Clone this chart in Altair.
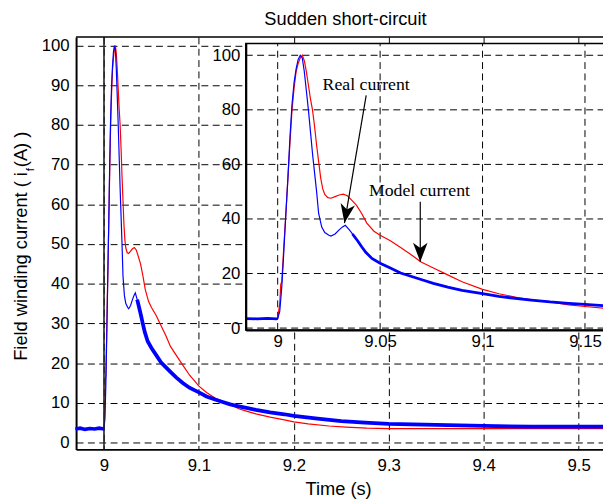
import altair as alt
import pandas as pd

# ---------------- data ----------------
# Real (measured) field current, blue
t_real = [8.970, 8.975, 8.980, 8.985, 8.990, 8.995, 8.9995,
          9.000, 9.001, 9.002, 9.003, 9.004, 9.005, 9.006, 9.007, 9.008, 9.009, 9.010, 9.011, 9.012,
          9.013, 9.014, 9.015, 9.016, 9.017, 9.018, 9.019, 9.020, 9.0215, 9.023, 9.025, 9.026, 9.028,
          9.030, 9.0315, 9.033, 9.035, 9.0365, 9.039, 9.041, 9.043, 9.046, 9.050, 9.055, 9.060, 9.065,
          9.070, 9.076, 9.083, 9.090, 9.100, 9.108, 9.117, 9.125, 9.133, 9.142, 9.150, 9.160, 9.175,
          9.190, 9.200, 9.225, 9.250, 9.275, 9.300, 9.350, 9.400, 9.450, 9.500, 9.526]
i_real = [3.4, 3.6, 3.3, 3.5, 3.4, 3.6, 3.4,
          3.5, 6, 15, 28, 42, 55, 70, 82, 90, 95, 98.5, 100, 99,
          94, 87, 80, 72, 64, 57, 50, 42, 37, 35, 34, 33.7, 34.5,
          36, 37, 37.7, 36, 34.5, 32, 29.8, 27.8, 25.5, 23.8, 22, 20.2, 19,
          17.8, 16.4, 15, 13.8, 12.6, 11.6, 10.8, 10.2, 9.6, 9.1, 8.7, 8.2, 7.6,
          7.1, 6.7, 6.0, 5.4, 5.0, 4.7, 4.4, 4.15, 4.0, 4.0, 4.0]

# Model field current, red
t_model = [8.970, 8.9995, 9.000,
           9.001, 9.0015, 9.002, 9.003, 9.004, 9.005, 9.006, 9.007, 9.008, 9.009, 9.010, 9.011, 9.012,
           9.013, 9.014, 9.015, 9.016, 9.017, 9.018, 9.019, 9.020,
           9.021, 9.022, 9.023, 9.0245, 9.026, 9.028, 9.030, 9.032, 9.034, 9.036,
           9.0385, 9.041, 9.0435, 9.047, 9.050, 9.055, 9.060, 9.065, 9.070, 9.076, 9.083, 9.090, 9.100,
           9.108, 9.117, 9.125, 9.133, 9.142, 9.150, 9.160, 9.175, 9.190, 9.200,
           9.215, 9.237, 9.255, 9.277, 9.300, 9.400, 9.526]
i_model = [3.5, 3.5, 3.5,
           9, 16, 17, 30, 42, 55, 68, 80, 88, 94, 97, 99, 100,
           98, 94, 89, 84, 80, 74, 67, 61,
           55, 51, 49, 47.8, 47.6, 48.2, 48.8, 49.1, 48.5, 47,
           45, 42, 38.5, 35.5, 34, 32, 29.5, 27, 24.2, 22, 19.5, 17, 14.2,
           12.6, 11.2, 10.3, 9.6, 8.5, 7.9, 7.2, 6.4, 5.7, 5.2,
           4.7, 4.15, 3.85, 3.6, 3.5, 3.5, 3.5]

main_x_ticks = [9.0, 9.1, 9.2, 9.3, 9.4, 9.5]
main_y_ticks = [0, 10, 20, 30, 40, 50, 60, 70, 80, 90, 100]
inset_x_ticks = [9.0, 9.05, 9.1, 9.15]
inset_y_ticks = [0, 20, 40, 60, 80, 100]
fault_time = [9.0]

title_text = "Sudden short-circuit"
x_title = "Time (s)"
y_title_a = "Field winding current ( i"
y_title_sub = "f"
y_title_b = " (A) )"
ann_real = "Real current"
ann_model = "Model current"

# annotation anchor points (inset data coordinates)
ann_real_xy = (9.0432, 89.0)
ann_model_xy = (9.0692, 50.3)
arrow_real = (9.0432, 85.3, 9.0326, 38.5)
arrow_model = (9.0696, 46.3, 9.0696, 24.3)

# ---------------- layout ----------------
W, H = 534, 418
MXD = [8.9706, 9.5257]
MYD = [-1.75, 102.2]
IXD = [8.98444, 9.1588]
IYD = [-0.7, 104.3]

MX = alt.Scale(domain=MXD, nice=False, zero=False)
MY = alt.Scale(domain=MYD, nice=False, zero=False)
IX = alt.Scale(domain=IXD, range=[172, 534], nice=False, zero=False)
IY = alt.Scale(domain=IYD, range=[297, 6.7], nice=False, zero=False)

FONT = "Liberation Sans"
SERIF = "Liberation Serif"
RED = "#ff0000"
BLUE = "#0000ff"
DASH = [7, 4.5]

df_real = pd.DataFrame({"t": t_real, "i": i_real})
df_model = pd.DataFrame({"t": t_model, "i": i_model})

common_axis = dict(domainColor="black", domainWidth=2, ticks=False, tickSize=0,
                   labelFont=FONT, labelFontSize=17, labelColor="black",
                   labelOverlap=False, labelFlush=False, title=None)

ax_mx = alt.Axis(values=main_x_ticks, format=".1~f", orient="bottom", grid=True,
                 gridDash=DASH, gridColor="black", gridWidth=1, gridOpacity=1,
                 labelPadding=8, **common_axis)
ax_my = alt.Axis(values=main_y_ticks, orient="left", grid=True,
                 gridDash=DASH, gridColor="black", gridWidth=1, gridOpacity=1,
                 labelPadding=7, **common_axis)
ax_ix = alt.Axis(values=inset_x_ticks, format=".2~f", orient="bottom", offset=-121,
                 grid=False, labelPadding=4, zindex=2, **common_axis)
ax_iy = alt.Axis(values=inset_y_ticks, orient="left", offset=-172,
                 grid=False, labelPadding=6, zindex=2, **common_axis)


def mx(field):
    return alt.X(field, scale=MX, axis=ax_mx)


def my(field):
    return alt.Y(field, scale=MY, axis=ax_my)


def ix(field):
    return alt.X(field, scale=IX, axis=ax_ix)


def iy(field):
    return alt.Y(field, scale=IY, axis=ax_iy)


# ---------------- main panel ----------------
m_red = alt.Chart(df_model).mark_line(color=RED, strokeWidth=1.2).encode(x=mx("t:Q"), y=my("i:Q"))
m_blue = alt.Chart(df_real).mark_line(color=BLUE, strokeWidth=1.2).encode(x=mx("t:Q"), y=my("i:Q"))
m_blue_pre = alt.Chart(df_real).transform_filter("datum.t <= 9.0").mark_line(
    color=BLUE, strokeWidth=3.6).encode(x=mx("t:Q"), y=my("i:Q"))
m_blue_tail = alt.Chart(df_real).transform_filter("datum.t >= 9.035").mark_line(
    color=BLUE, strokeWidth=3.8).encode(x=mx("t:Q"), y=my("i:Q"))
m_fault = alt.Chart(pd.DataFrame({"t": fault_time})).mark_rule(
    color="#222222", strokeWidth=1.6).encode(x=mx("t:Q"))
m_top = alt.Chart(pd.DataFrame({"y": [MYD[1]]})).mark_rule(
    color="black", strokeWidth=1.5).encode(y=my("y:Q"))

one = pd.DataFrame({"k": [0]})
t_title = alt.Chart(one).mark_text(font=FONT, fontSize=18.5, color="black",
                                   align="center", baseline="middle").encode(
    x=alt.value(273), y=alt.value(-18), text=alt.value(title_text))
t_xtitle = alt.Chart(one).mark_text(font=FONT, fontSize=18.5, color="black",
                                    align="center", baseline="middle").encode(
    x=alt.value(266), y=alt.value(458), text=alt.value(x_title))
YA = 137
t_ya = alt.Chart(one).mark_text(font=FONT, fontSize=18.5, color="black", angle=270,
                                align="right", baseline="middle").encode(
    x=alt.value(-56), y=alt.value(YA), text=alt.value(y_title_a))
t_ysub = alt.Chart(one).mark_text(font=FONT, fontSize=12, color="black", angle=270,
                                  align="left", baseline="middle").encode(
    x=alt.value(-47), y=alt.value(YA - 1), text=alt.value(y_title_sub))
t_yb = alt.Chart(one).mark_text(font=FONT, fontSize=18.5, color="black", angle=270,
                                align="left", baseline="middle").encode(
    x=alt.value(-56), y=alt.value(YA - 5), text=alt.value(y_title_b))

main = alt.layer(m_red, m_blue, m_blue_pre, m_blue_tail, m_fault, m_top,
                 t_title, t_xtitle, t_ya, t_ysub, t_yb)

# ---------------- inset panel ----------------
in_filter = f"datum.t >= {IXD[0]} && datum.t <= 9.161"
bg = alt.Chart(pd.DataFrame({"x": [IXD[0]], "x2": [9.175], "y": [IYD[0]], "y2": [IYD[1]]})).mark_rect(
    fill="white", stroke="black", strokeWidth=1.5).encode(
    x=ix("x:Q"), x2="x2:Q", y=iy("y:Q"), y2="y2:Q")
gx = alt.Chart(pd.DataFrame({"t": inset_x_ticks, "y": IYD[0], "y2": IYD[1]})).mark_rule(
    color="black", strokeWidth=1, strokeDash=DASH).encode(x=ix("t:Q"), y=iy("y:Q"), y2="y2:Q")
gy = alt.Chart(pd.DataFrame({"v": inset_y_ticks, "x": IXD[0], "x2": 9.175})).mark_rule(
    color="black", strokeWidth=1, strokeDash=DASH).encode(y=iy("v:Q"), x=ix("x:Q"), x2="x2:Q")
i_red = alt.Chart(df_model).transform_filter(in_filter).mark_line(
    color=RED, strokeWidth=1.2).encode(x=ix("t:Q"), y=iy("i:Q"))
i_blue = alt.Chart(df_real).transform_filter(in_filter).mark_line(
    color=BLUE, strokeWidth=1.2).encode(x=ix("t:Q"), y=iy("i:Q"))
i_blue_pre = alt.Chart(df_real).transform_filter(in_filter + " && datum.t <= 9.0").mark_line(
    color=BLUE, strokeWidth=2.8).encode(x=ix("t:Q"), y=iy("i:Q"))
i_blue_tail = alt.Chart(df_real).transform_filter(in_filter + " && datum.t >= 9.036").mark_line(
    color=BLUE, strokeWidth=2.8).encode(x=ix("t:Q"), y=iy("i:Q"))

arrow_df = pd.DataFrame({
    "x": [arrow_real[0], arrow_model[0]], "y": [arrow_real[1], arrow_model[1]],
    "x2": [arrow_real[2], arrow_model[2]], "y2": [arrow_real[3], arrow_model[3]],
    "ang": [10, 0]})
a_lines = alt.Chart(arrow_df).mark_rule(color="black", strokeWidth=1.2).encode(
    x=ix("x:Q"), y=iy("y:Q"), x2="x2:Q", y2="y2:Q")
HEAD = "M0,0 L-0.38,-1 L0,-0.72 L0.38,-1 Z"
a_heads = alt.Chart(arrow_df).mark_point(shape=HEAD, filled=True, color="black",
                                         opacity=1, size=1500, strokeWidth=0).encode(
    x=ix("x2:Q"), y=iy("y2:Q"), angle=alt.Angle("ang:Q", scale=None))
ann_df = pd.DataFrame({"x": [ann_real_xy[0], ann_model_xy[0]],
                       "y": [ann_real_xy[1], ann_model_xy[1]],
                       "label": [ann_real, ann_model]})
a_text = alt.Chart(ann_df).mark_text(font=SERIF, fontSize=18, color="black",
                                     align="center", baseline="middle").encode(
    x=ix("x:Q"), y=iy("y:Q"), text="label:N")

inset = alt.layer(bg, gx, gy, i_red, i_blue, i_blue_pre, i_blue_tail, a_lines, a_heads, a_text)

chart = alt.layer(main, inset).resolve_scale(x="independent", y="independent").properties(
    width=W, height=H,
    autosize=alt.AutoSizeParams(type="none"),
    padding={"left": 69, "top": 26, "right": 0, "bottom": 50},
).configure_view(stroke=None)

chart.save("out.html", embed_options={"renderer": "svg", "actions": False})
